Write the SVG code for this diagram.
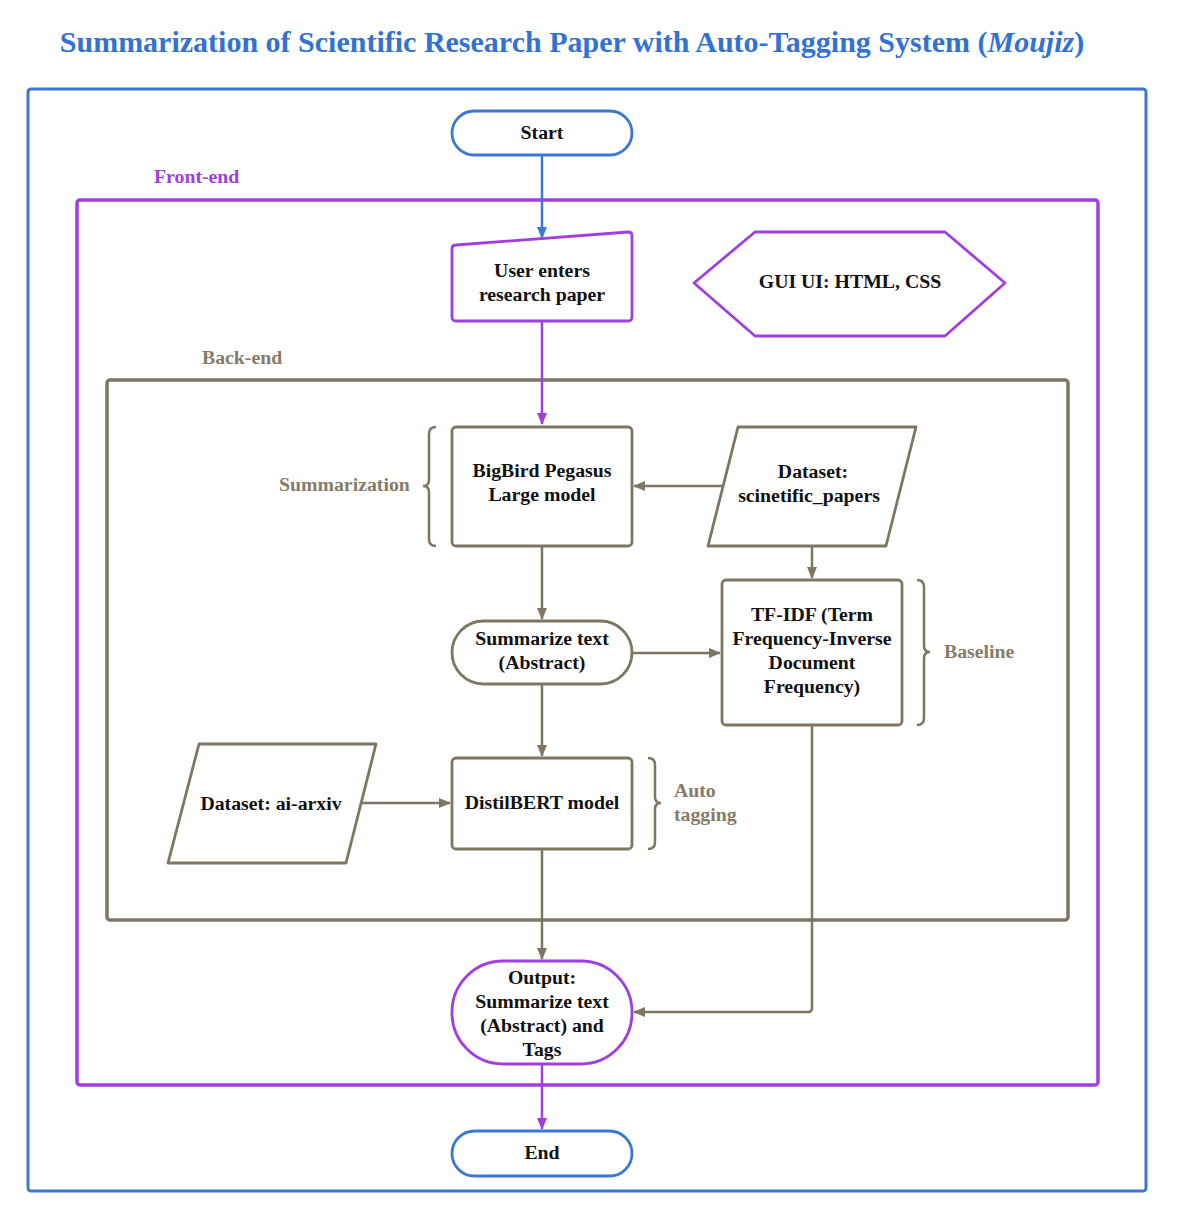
<svg xmlns="http://www.w3.org/2000/svg" width="1181" height="1231" viewBox="0 0 1181 1231">
<style>
text{font-family:"Liberation Serif","Times New Roman",serif;font-weight:bold}
.n{font-size:19.8px;fill:#111;text-anchor:middle}
.lb{font-size:19.8px;fill:#857c68}
.pl{font-size:19.8px;fill:#a13ee0}
.br{fill:#fff;stroke:#7e7563;stroke-width:2.8;stroke-linejoin:round}
.pu{fill:#fff;stroke:#a13ee0;stroke-width:2.8;stroke-linejoin:round}
.bl{fill:#fff;stroke:#3a78d6;stroke-width:2.8}
.cb{fill:none;stroke:#7e7563;stroke-width:2.5}
.cp{fill:none;stroke:#a13ee0;stroke-width:2.5}
.cl{fill:none;stroke:#3a78d6;stroke-width:2.5}
.brace{fill:none;stroke:#7e7563;stroke-width:2.5}
</style>
<defs>
<marker id="ab" markerWidth="12" markerHeight="10" refX="11" refY="5" orient="auto" markerUnits="userSpaceOnUse"><path d="M0,0 L12,5 L0,10 Z" fill="#7e7563"/></marker>
<marker id="ap" markerWidth="12" markerHeight="10" refX="11" refY="5" orient="auto" markerUnits="userSpaceOnUse"><path d="M0,0 L12,5 L0,10 Z" fill="#a13ee0"/></marker>
<marker id="al" markerWidth="12" markerHeight="10" refX="11" refY="5" orient="auto" markerUnits="userSpaceOnUse"><path d="M0,0 L12,5 L0,10 Z" fill="#3a78d6"/></marker>
</defs>
<rect width="1181" height="1231" fill="#fff"/>
<text x="572" y="52" font-size="30" fill="#3272d4" text-anchor="middle">Summarization of Scientific Research Paper with Auto-Tagging System (<tspan font-style="italic">Moujiz</tspan>)</text>

<g id="frame-outer"><rect x="28" y="89" width="1118" height="1102" rx="3" fill="none" stroke="#3a78d6" stroke-width="3"/></g>
<g id="frame-frontend"><rect x="77" y="200" width="1021" height="885" rx="3" fill="none" stroke="#a13ee0" stroke-width="3.5"/><text class="pl" x="154" y="183">Front-end</text></g>
<g id="frame-backend"><rect x="107" y="380" width="961" height="540" rx="3" fill="none" stroke="#7e7563" stroke-width="3.5"/><text class="lb" x="202" y="364">Back-end</text></g>

<g id="connectors">
<line class="cl" x1="542" y1="155" x2="542" y2="238" marker-end="url(#al)"/>
<line class="cp" x1="542" y1="321" x2="542" y2="424" marker-end="url(#ap)"/>
<line class="cb" x1="723" y1="486" x2="634" y2="486" marker-end="url(#ab)"/>
<line class="cb" x1="542" y1="546" x2="542" y2="619" marker-end="url(#ab)"/>
<line class="cb" x1="632" y1="653" x2="720" y2="653" marker-end="url(#ab)"/>
<line class="cb" x1="812" y1="546" x2="812" y2="578" marker-end="url(#ab)"/>
<line class="cb" x1="542" y1="684" x2="542" y2="756" marker-end="url(#ab)"/>
<line class="cb" x1="361" y1="803" x2="450" y2="803" marker-end="url(#ab)"/>
<line class="cb" x1="542" y1="849" x2="542" y2="959" marker-end="url(#ab)"/>
<path class="cb" d="M812,725 L812,1008 Q812,1012 808,1012 L634,1012" marker-end="url(#ab)"/>
<line class="cp" x1="542" y1="1064" x2="542" y2="1129" marker-end="url(#ap)"/>
</g>

<g id="start"><rect class="bl" x="452" y="111" width="180" height="44" rx="22"/><text class="n" x="542" y="139">Start</text></g>
<g id="user-input"><path class="pu" d="M456,245 L628,232 Q632,232 632,236 L632,317 Q632,321 628,321 L456,321 Q452,321 452,317 L452,249 Q452,245 456,245 Z"/><text class="n" x="542" y="277">User enters</text><text class="n" x="542" y="301">research paper</text></g>
<g id="gui"><polygon class="pu" points="694,283 755,232 945,232 1005,283 945,336 755,336"/><text class="n" x="850" y="288">GUI UI: HTML, CSS</text></g>

<g id="bigbird"><rect class="br" x="452" y="427" width="180" height="119" rx="4"/><text class="n" x="542" y="477">BigBird Pegasus</text><text class="n" x="542" y="501">Large model</text></g>
<g id="summarization-label"><path class="brace" d="M436,427 Q429,427 429,434 L429,480 Q429,486 423,486 Q429,486 429,492 L429,539 Q429,546 436,546"/><text class="lb" x="279" y="491">Summarization</text></g>
<g id="dataset-sci"><path class="br" d="M738,427 L916,427 L886,546 L708,546 Z"/><text class="n" x="813" y="478">Dataset:</text><text class="n" x="809" y="502">scinetific_papers</text></g>
<g id="summarize"><rect class="br" x="452" y="621" width="180" height="63" rx="31.5"/><text class="n" x="542" y="645">Summarize text</text><text class="n" x="542" y="669">(Abstract)</text></g>
<g id="tfidf"><rect class="br" x="722" y="580" width="180" height="145" rx="4"/><text class="n" x="812" y="621">TF-IDF (Term</text><text class="n" x="812" y="645">Frequency-Inverse</text><text class="n" x="812" y="669">Document</text><text class="n" x="812" y="693">Frequency)</text></g>
<g id="baseline-label"><path class="brace" d="M917,580 Q924,580 924,587 L924,646 Q924,652 930,652 Q924,652 924,658 L924,718 Q924,725 917,725"/><text class="lb" x="944" y="658">Baseline</text></g>
<g id="dataset-arxiv"><path class="br" d="M199,744 L376,744 L346,863 L168,863 Z"/><text class="n" x="271" y="810">Dataset: ai-arxiv</text></g>
<g id="distilbert"><rect class="br" x="452" y="758" width="180" height="91" rx="4"/><text class="n" x="542" y="809">DistilBERT model</text></g>
<g id="autotag-label"><path class="brace" d="M648,758 Q655,758 655,765 L655,797 Q655,803 661,803 Q655,803 655,809 L655,842 Q655,849 648,849"/><text class="lb" x="674" y="797">Auto</text><text class="lb" x="674" y="821">tagging</text></g>
<g id="output"><rect class="pu" x="452" y="961" width="180" height="103" rx="51"/><text class="n" x="542" y="984">Output:</text><text class="n" x="542" y="1008">Summarize text</text><text class="n" x="542" y="1032">(Abstract) and</text><text class="n" x="542" y="1056">Tags</text></g>
<g id="end"><rect class="bl" x="452" y="1131" width="180" height="45" rx="22.5"/><text class="n" x="542" y="1159">End</text></g>
</svg>
